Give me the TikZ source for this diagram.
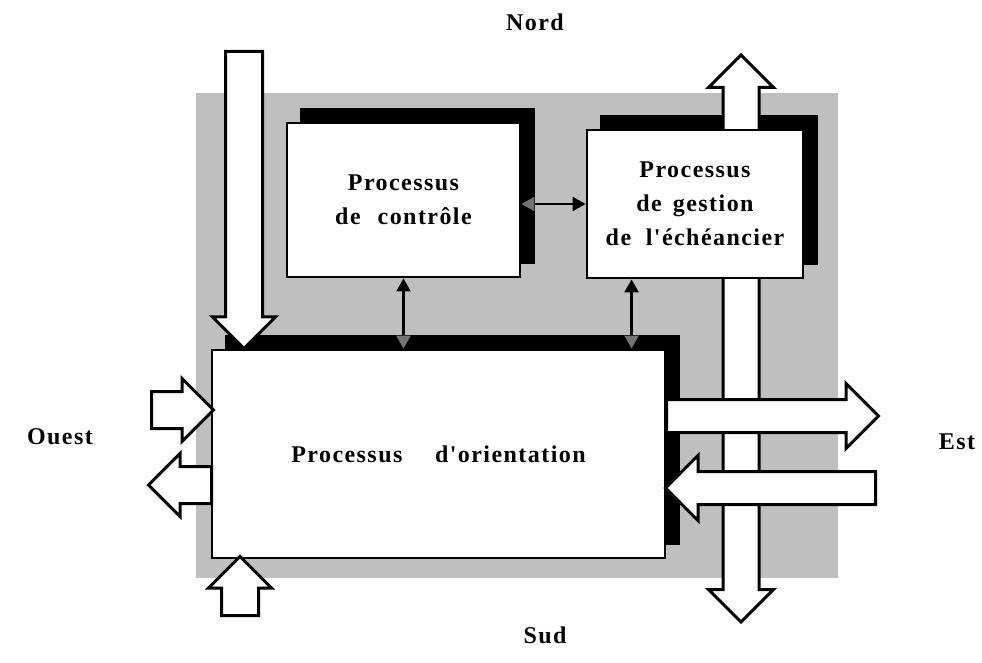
\documentclass[tikz,border=0pt]{standalone}
\usepackage{fontspec}
\newfontfamily\lblfont{Liberation Serif}[LetterSpace=6]
\usetikzlibrary{shapes.arrows, arrows.meta, calc}
\pgfdeclarelayer{bg}
\pgfdeclarelayer{shade}
\pgfdeclarelayer{mid}
\pgfsetlayers{bg,shade,mid,main}

\begin{document}
\begin{tikzpicture}[x=1pt, y=1pt,
          proc/.style={rectangle, draw, line width=2.8pt, fill=white,
                       align=center,
                       font=\lblfont\bfseries\fontsize{24}{34}\selectfont},
          bigarr/.style={single arrow, draw, fill=white, line width=3pt,
                         inner xsep=0pt, inner ysep=17pt,
                         single arrow head extend=13pt,
                         single arrow tip angle=90, minimum height=#1},
          bigdarr/.style={double arrow, draw, fill=white, line width=3pt,
                          inner xsep=0pt, inner ysep=16.5pt,
                          double arrow head extend=14.5pt,
                          double arrow tip angle=90, minimum height=#1},
          link/.style={{Triangle[length=13pt,width=14pt,color=black!55]}-{Triangle[length=13pt,width=14pt]},
                       line width=2.4pt},
          dir/.style={font=\lblfont\bfseries\fontsize{24}{26}\selectfont}
        ]
        \useasboundingbox (0,0) rectangle (982,662);

        % Shaded ground
        \begin{pgfonlayer}{bg}
          \fill[black!25] (196,84) rectangle (838,569);
        \end{pgfonlayer}

        % Processes
        \node[proc, minimum width=233, minimum height=154] (ctl) at (403.5,462)
              {Processus\\de\hspace{0.4em} contrôle};
        \node[proc, minimum width=216, minimum height=148] (ech) at (695,458)
              {Processus\\de\hspace{0.15em} gestion\\de\hspace{0.3em} l'échéancier};
        \node[proc, minimum width=453, minimum height=208] (ori) at (438.5,208)
              {Processus\hspace{1.05em} d'orientation};

        % Shadows
        \begin{pgfonlayer}{shade}
          \foreach \b in {ctl,ech,ori}
            \fill ([shift={(14,14)}]\b.south west) rectangle ([shift={(14,14)}]\b.north east);
        \end{pgfonlayer}

        % North-South flow
        \begin{pgfonlayer}{mid}
          \node[bigdarr=567, rotate=90] (arrV) at (741,323.5) {};
        \end{pgfonlayer}
        \node[bigarr=297, rotate=-90, anchor=tail] (arrN) at (244,612) {};
        \node[bigarr=59, rotate=90, anchor=tail] (arrS) at (240,45) {};

        % West and East flows
        \node[bigarr=62, anchor=tail] (arrWi) at (150,252) {};
        \node[bigarr=63, rotate=180, anchor=tail] (arrWo) at (213,177) {};
        \node[bigarr=212, inner ysep=15pt, single arrow head extend=16pt,
              anchor=tail] (arrEo) at (665,246) {};
        \node[bigarr=210, inner ysep=15pt, single arrow head extend=16pt,
              rotate=180, anchor=tail] (arrEi) at (877,174) {};

        % Exchanges between processes
        \coordinate (v2) at ($(ech.south west)!0.21!(ech.south east)$);
        \draw[link] (ctl.east |- ech.west) -- (ech.west);
        \draw[link] (ori.north -| ctl.south) -- (ctl.south);
        \draw[link] (ori.north -| v2) -- (v2);

        % Directions
        \node[dir] (nord) at (535,640) {Nord};
        \node[dir] (sud) at (545,27) {Sud};
        \node[dir] (ouest) at (60,225) {Ouest};
        \node[dir] (est) at (957,220) {Est};
      \end{tikzpicture}
\end{document}
